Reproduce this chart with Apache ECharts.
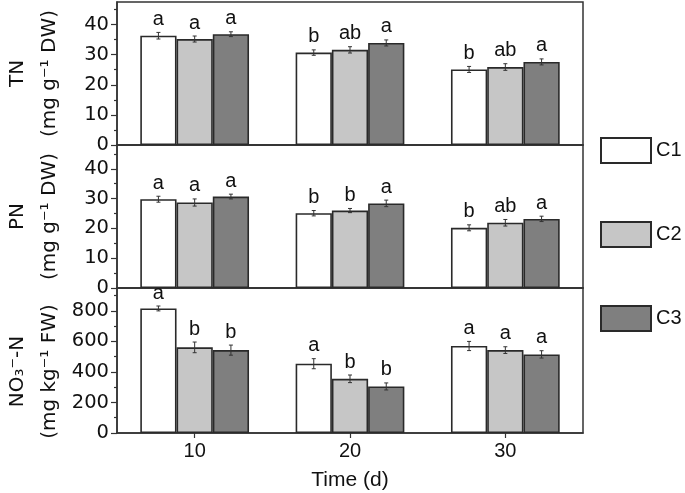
<!DOCTYPE html>
<html>
<head>
<meta charset="utf-8">
<script src="https://cdn.jsdelivr.net/npm/echarts@6/dist/echarts.min.js"></script>
<style>html,body{margin:0;padding:0;background:#fff}#c{width:685px;height:493px}</style>
</head>
<body>
<div id="c"></div>
<script>
// ---- data ----
const categories = ['10', '20', '30'];
const seriesNames = ['C1', 'C2', 'C3'];

// TN (mg g-1 DW)
const tnC1 = [36.3, 30.7, 25.1];
const tnC2 = [35.2, 31.6, 25.9];
const tnC3 = [36.8, 33.9, 27.6];
const tnErrC1 = [1.1, 0.9, 1.0];
const tnErrC2 = [1.0, 1.05, 1.1];
const tnErrC3 = [0.8, 1.0, 1.0];
const tnLetC1 = ['a', 'b', 'b'];
const tnLetC2 = ['a', 'ab', 'ab'];
const tnLetC3 = ['a', 'a', 'a'];

// PN (mg g-1 DW)
const pnC1 = [29.8, 25.1, 20.2];
const pnC2 = [28.7, 26.0, 21.9];
const pnC3 = [30.7, 28.4, 23.2];
const pnErrC1 = [1.0, 0.9, 1.0];
const pnErrC2 = [1.2, 0.7, 1.1];
const pnErrC3 = [0.8, 1.1, 0.9];
const pnLetC1 = ['a', 'b', 'b'];
const pnLetC2 = ['a', 'b', 'ab'];
const pnLetC3 = ['a', 'a', 'a'];

// NO3--N (mg kg-1 FW)
const noC1 = [816, 454, 570];
const noC2 = [561, 355, 543];
const noC3 = [543, 305, 515];
const noErrC1 = [16, 33, 30];
const noErrC2 = [35, 25, 22];
const noErrC3 = [33, 23, 24];
const noLetC1 = ['a', 'a', 'a'];
const noLetC2 = ['b', 'b', 'a'];
const noLetC3 = ['b', 'b', 'a'];

// tick labels
const tnTicks = [0, 10, 20, 30, 40];
const tnMinor = [5, 15, 25, 35, 45];
const pnTicks = [0, 10, 20, 30, 40];
const pnMinor = [5, 15, 25, 35, 45];
const noTicks = [0, 200, 400, 600, 800];
const noMinor = [100, 300, 500, 700, 900];

// ---- build ----
const panels = [
  { vals: [tnC1, tnC2, tnC3], errs: [tnErrC1, tnErrC2, tnErrC3], lets: [tnLetC1, tnLetC2, tnLetC3],
    max: 47.5, ticks: tnTicks, minor: tnMinor,
    title: '{t|TN}\n{t|(mg g⁻¹ DW)}', pad: [0, 0, 0, 0] },
  { vals: [pnC1, pnC2, pnC3], errs: [pnErrC1, pnErrC2, pnErrC3], lets: [pnLetC1, pnLetC2, pnLetC3],
    max: 48, ticks: pnTicks, minor: pnMinor,
    title: '{t|PN}\n{t|(mg g⁻¹ DW)}', pad: [0, 0, 0, 0] },
  { vals: [noC1, noC2, noC3], errs: [noErrC1, noErrC2, noErrC3], lets: [noLetC1, noLetC2, noLetC3],
    max: 950, ticks: noTicks, minor: noMinor,
    title: '{t|NO₃⁻-N}\n{t|(mg kg⁻¹ FW)}', pad: [0, 22, 0, 0] }
];

const fills = ['#ffffff', '#c6c6c6', '#7f7f7f'];
const edge = '#2a2a2a';
const axisCol = '#333333';
const gridTops = [2, 145, 288];
const gridHeights = [143, 143, 145];
const catGap = 0.30;

const grid = [], xAxis = [], yAxis = [], series = [];

panels.forEach((p, gi) => {
  grid.push({ left: 114, right: 102, top: gridTops[gi], height: gridHeights[gi],
    show: true, borderColor: axisCol, borderWidth: 1.5, backgroundColor: 'transparent' });

  xAxis.push({
    type: 'category', gridIndex: gi, data: categories,
    axisLine: { show: true, lineStyle: { color: axisCol, width: 1.5 } },
    axisTick: { show: gi === 2, alignWithLabel: true, length: 5, lineStyle: { color: axisCol, width: 1.2 } },
    axisLabel: { show: gi === 2, fontSize: 20, margin: 8, color: '#111', fontFamily: 'Liberation Sans' },
    name: gi === 2 ? 'Time (d)' : '', nameLocation: 'middle', nameGap: 37,
    nameTextStyle: { fontSize: 21, color: '#111', fontFamily: 'Liberation Sans' }
  });

  yAxis.push({
    type: 'value', gridIndex: gi, min: 0, max: p.max,
    axisLine: { show: true, lineStyle: { color: axisCol, width: 1.5 } },
    axisTick: { show: true, length: 6, customValues: p.ticks, lineStyle: { color: axisCol, width: 1.2 } },
    axisLabel: { show: true, customValues: p.ticks, fontSize: 19.5, margin: 8, color: '#111', fontFamily: 'DejaVu Sans' },
    splitLine: { show: false },
    name: p.title, nameLocation: 'middle', nameRotate: 90, nameGap: 51,
    nameTextStyle: {
      padding: p.pad,
      rich: { t: { fontSize: 20, lineHeight: 32, color: '#111', fontFamily: 'DejaVu Sans' } }
    }
  });
  // minor tick axis
  yAxis.push({
    type: 'value', gridIndex: gi, min: 0, max: p.max, position: 'left',
    axisLine: { show: false },
    axisTick: { show: true, length: 3, customValues: p.minor, lineStyle: { color: axisCol, width: 1.2 } },
    axisLabel: { show: false }, splitLine: { show: false }
  });
  const yIdx = gi * 2;

  seriesNames.forEach((nm, k) => {
    series.push({
      type: 'bar', name: nm, xAxisIndex: gi, yAxisIndex: yIdx,
      data: p.vals[k], barGap: '0%', barCategoryGap: (catGap * 100) + '%',
      itemStyle: { color: fills[k], borderColor: edge, borderWidth: 1.6 },
      emphasis: { disabled: true }, z: 2
    });
  });

  seriesNames.forEach((nm, k) => {
    const lets = p.lets[k];
    series.push({
      type: 'custom', xAxisIndex: gi, yAxisIndex: yIdx, z: 5, silent: true,
      data: categories.map((c, i) => [i, p.vals[k][i], p.errs[k][i]]),
      encode: { x: 0, y: 1 },
      renderItem: function (params, api) {
        const cat = api.value(0), mean = api.value(1), err = api.value(2);
        const band = api.size([1, 0])[0];
        const barW = band * (1 - catGap) / 3;
        const off = (k - 1) * barW;
        const top = api.coord([cat, mean + err]);
        const bot = api.coord([cat, mean - err]);
        const x = top[0] + off;
        const cw = 2;
        const ls = { stroke: '#333', lineWidth: 1 };
        return {
          type: 'group', children: [
            { type: 'line', shape: { x1: x, y1: top[1], x2: x, y2: bot[1] }, style: ls },
            { type: 'line', shape: { x1: x - cw, y1: top[1], x2: x + cw, y2: top[1] }, style: ls },
            { type: 'line', shape: { x1: x - cw, y1: bot[1], x2: x + cw, y2: bot[1] }, style: ls },
            { type: 'text', style: { text: lets[params.dataIndex], x: x, y: top[1] - 3,
              align: 'center', verticalAlign: 'bottom', fill: '#111',
              fontSize: 20, fontFamily: 'Liberation Sans' } }
          ]
        };
      }
    });
  });
});

const option = {
  animation: false,
  backgroundColor: '#ffffff',
  textStyle: { fontFamily: 'Liberation Sans, Arial, sans-serif' },
  legend: {
    data: seriesNames, orient: 'vertical', left: 600, top: 137, padding: 0,
    itemWidth: 50, itemHeight: 25, itemGap: 57, icon: 'rect',
    textStyle: { fontSize: 20, color: '#111', fontFamily: 'Liberation Sans' },
    selectedMode: false
  },
  grid, xAxis, yAxis, series
};

const chart = echarts.init(document.getElementById('c'), null, { renderer: 'canvas' });
chart.setOption(option);
</script>
</body>
</html>
